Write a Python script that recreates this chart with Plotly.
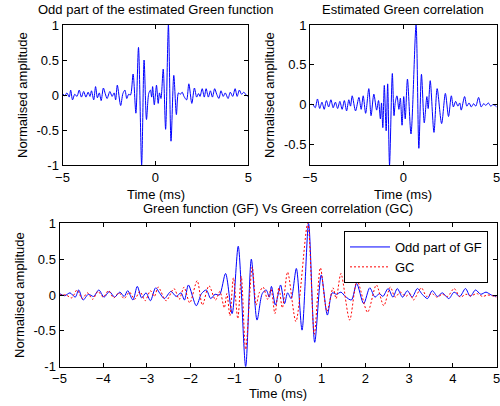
import plotly.graph_objects as go

# ---------------- data ----------------
gf_time = [-5.00, -4.88, -4.76, -4.64, -4.56, -4.46, -4.34, -4.22, -4.10, -3.98,
           -3.86, -3.74, -3.62, -3.52, -3.44, -3.32, -3.22, -3.12, -3.02, -2.92,
           -2.80, -2.70, -2.60, -2.45, -2.33, -2.22, -2.14, -2.05, -1.87, -1.75,
           -1.64, -1.54, -1.44, -1.34, -1.20, -1.05, -0.91, -0.74, -0.61, -0.48,
           -0.36, -0.27, -0.20, -0.15, -0.06, 0.00,
           0.06, 0.15, 0.22, 0.30, 0.42, 0.55, 0.70, 0.84, 0.99, 1.13,
           1.24, 1.34, 1.44, 1.54, 1.68, 1.80, 1.96, 2.10, 2.22, 2.32,
           2.40, 2.52, 2.63, 2.73, 2.85, 2.96, 3.07, 3.19, 3.30, 3.42,
           3.53, 3.65, 3.76, 3.91, 4.03, 4.16, 4.29, 4.40, 4.52, 4.64,
           4.76, 4.88, 5.00]
gf_value = [0.02, -0.01, 0.03, -0.03, 0.07, -0.07, 0.01, -0.02, 0.07, -0.03,
            0.05, -0.03, 0.04, -0.02, 0.06, -0.07, 0.12, -0.04, 0.03, -0.08,
            0.10, 0.02, -0.05, 0.05, -0.02, 0.03, -0.07, 0.14, -0.15, 0.02,
            0.07, -0.05, 0.01, 0.00, 0.30, -0.26, 0.68, -1.00, 0.50, -0.35,
            0.02, 0.07, -0.03, 0.12, -0.14, 0.00,
            0.14, -0.12, 0.03, -0.05, 0.37, -0.49, 1.00, -0.66, 0.28, -0.28,
            0.03, 0.01, 0.04, -0.02, -0.07, 0.16, -0.12, 0.10, -0.03, 0.02,
            -0.02, 0.09, -0.03, 0.09, -0.03, 0.06, -0.03, 0.09, 0.01, -0.05,
            0.06, -0.02, 0.03, -0.05, 0.04, -0.02, 0.09, -0.02, 0.07, 0.01,
            0.04, 0.00, -0.02]

gc_time = [-5.00, -4.85, -4.72, -4.60, -4.48, -4.36, -4.24, -4.12, -4.00, -3.88,
           -3.76, -3.64, -3.52, -3.40, -3.28, -3.16, -3.04, -2.92, -2.83, -2.74,
           -2.56, -2.38, -2.26, -2.15, -2.02, -1.85, -1.73, -1.58, -1.43, -1.33,
           -1.23, -1.17, -1.10, -1.02, -0.92, -0.84, -0.74, -0.59, -0.50, -0.43,
           -0.34, -0.24, -0.16, -0.07, 0.02, 0.10, 0.22, 0.41, 0.68, 0.83,
           0.97, 1.12, 1.26, 1.33, 1.44, 1.64, 1.81, 2.05, 2.25, 2.42,
           2.57, 2.68, 2.80, 2.92, 3.02, 3.10, 3.28, 3.40, 3.52, 3.64,
           3.76, 3.88, 4.03, 4.17, 4.30, 4.42, 4.55, 4.68, 4.80, 4.90,
           5.00]
gc_value = [0.00, 0.00, -0.04, 0.07, -0.05, 0.03, -0.06, 0.05, -0.03, 0.06,
            -0.04, 0.03, -0.05, 0.04, -0.06, 0.05, -0.08, 0.06, -0.02, 0.11,
            -0.08, 0.09, -0.06, 0.11, -0.11, 0.20, -0.14, 0.13, -0.07, 0.05,
            -0.18, 0.02, -0.29, 0.24, -0.33, 0.26, -0.76, 0.39, -0.14, 0.03,
            0.11, -0.06, 0.08, -0.26, 0.10, -0.18, 0.32, -0.37, 1.00, -0.55,
            0.38, -0.23, 0.10, -0.05, 0.30, -0.35, 0.20, -0.24, 0.14, -0.15,
            0.11, -0.03, 0.04, -0.02, 0.02, -0.07, 0.10, -0.02, 0.02, -0.03,
            0.01, -0.02, 0.09, -0.03, 0.01, -0.01, 0.02, -0.02, 0.00, -0.01,
            -0.03]

top_x_ticks = [-5, 0, 5]
bottom_x_ticks = [-5, -4, -3, -2, -1, 0, 1, 2, 3, 4, 5]
amp_ticks = [-1, -0.5, 0, 0.5, 1]
amp_tick_labels = ["-1", "-0.5", "0", "0.5", "1"]
gc_ticks = [-0.5, 0, 0.5, 1]
gc_tick_labels = ["-0.5", "0", "0.5", "1"]

title_gf = "Odd part of the estimated Green function"
title_gc = "Estimated Green correlation"
title_both = "Green function (GF) Vs Green correlation (GC)"
x_title = "Time (ms)"
y_title = "Normalised amplitude"
legend_gf = "Odd part of GF"
legend_gc = "GC"

# ---------------- figure ----------------
W, H = 500, 406
FONT = "Liberation Sans, Arial, sans-serif"
BLUE = "#0000ff"
RED = "#ff0000"

fig = go.Figure()

fig.add_trace(go.Scatter(x=gf_time, y=gf_value, mode="lines", xaxis="x", yaxis="y",
                         line=dict(color=BLUE, width=1, shape="spline", smoothing=0.8),
                         showlegend=False, hoverinfo="skip"))
fig.add_trace(go.Scatter(x=gc_time, y=gc_value, mode="lines", xaxis="x2", yaxis="y2",
                         line=dict(color=BLUE, width=1, shape="spline", smoothing=0.8),
                         showlegend=False, hoverinfo="skip"))
fig.add_trace(go.Scatter(x=gf_time, y=gf_value, mode="lines", xaxis="x3", yaxis="y3",
                         name=legend_gf,
                         line=dict(color=BLUE, width=1, shape="spline", smoothing=0.8),
                         hoverinfo="skip"))
fig.add_trace(go.Scatter(x=gc_time, y=gc_value, mode="lines", xaxis="x3", yaxis="y3",
                         name=legend_gc,
                         line=dict(color=RED, width=1, dash="2px,2px", shape="spline", smoothing=0.8),
                         hoverinfo="skip"))


def px_x(p):
    return p / W


def px_y(p):
    return 1 - p / H


axis_common = dict(showline=True, linecolor="black", linewidth=1, mirror="ticks",
                   ticks="inside", ticklen=4, tickcolor="black", tickwidth=1,
                   showgrid=False, zeroline=False, automargin=False,
                   ticklabeloverflow="allow",
                   tickfont=dict(family=FONT, size=13, color="black"))

fig.update_layout(
    template="none",
    width=W, height=H, autosize=False,
    margin=dict(l=0, r=0, t=0, b=0, pad=0),
    paper_bgcolor="white", plot_bgcolor="white",
    font=dict(family=FONT, size=13, color="black"),
    xaxis=dict(domain=[px_x(62.5), px_x(248.3)], range=[-5, 5], tickvals=top_x_ticks,
               anchor="y", **axis_common),
    yaxis=dict(domain=[px_y(165), px_y(25)], range=[-1, 1], tickvals=amp_ticks,
               ticktext=amp_tick_labels, anchor="x", **axis_common),
    xaxis2=dict(domain=[px_x(310), px_x(496.7)], range=[-5, 5], tickvals=top_x_ticks,
                anchor="y2", **axis_common),
    yaxis2=dict(domain=[px_y(165), px_y(25)], range=[-0.76, 1], tickvals=gc_ticks,
                ticktext=gc_tick_labels, anchor="x2", **axis_common),
    xaxis3=dict(domain=[px_x(59.5), px_x(496.5)], range=[-5, 5], tickvals=bottom_x_ticks,
                anchor="y3", **axis_common),
    yaxis3=dict(domain=[px_y(366.7), px_y(223.3)], range=[-1, 1], tickvals=amp_ticks,
                ticktext=amp_tick_labels, anchor="x3", **axis_common),
    legend=dict(x=px_x(344), y=px_y(231), xanchor="left", yanchor="top",
                bgcolor="white", bordercolor="black", borderwidth=1,
                font=dict(family=FONT, size=13, color="black"),
                tracegroupgap=0, itemwidth=40),
    showlegend=True,
)


def label(text, x, y, angle=0):
    fig.add_annotation(text=text, x=px_x(x), y=px_y(y), xref="paper", yref="paper",
                       xanchor="center", yanchor="middle", showarrow=False,
                       textangle=angle, font=dict(family=FONT, size=13, color="black"))


label(title_gf, 155.5, 10)
label(title_gc, 403.3, 10)
label(title_both, 277.5, 208)
label(x_title, 155.5, 194)
label(x_title, 403.3, 194)
label(x_title, 277.5, 393)
label(y_title, 22, 95, -90)
label(y_title, 269, 95, -90)
label(y_title, 19, 295, -90)

fig.write_html(
    "out.html",
    config={"displayModeBar": False},
    post_script="document.body.style.margin='0';document.body.style.padding='0';"
                "document.body.style.overflow='hidden';",
)
